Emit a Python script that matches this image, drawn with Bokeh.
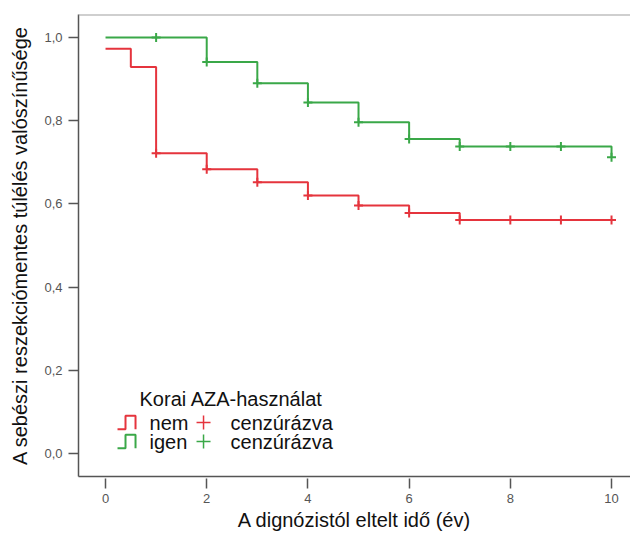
from bokeh.plotting import figure
from bokeh.models import FixedTicker, Range1d, Span
from bokeh.core.properties import value
from bokeh.embed import file_html
from bokeh.resources import INLINE

# Kaplan-Meier data
nem_t = [0, 0.5, 1, 2, 3, 4, 5, 6, 7, 10]
nem_s = [0.973, 0.929, 0.722, 0.683, 0.652, 0.620, 0.596, 0.578, 0.561, 0.561]
nem_cens_t = [1, 2, 3, 4, 5, 6, 7, 8, 9, 10]
nem_cens_s = [0.722, 0.683, 0.652, 0.620, 0.596, 0.578, 0.561, 0.561, 0.561, 0.561]

igen_t = [0, 2, 3, 4, 5, 6, 7, 10]
igen_s = [1.0, 0.941, 0.890, 0.844, 0.796, 0.756, 0.738, 0.712]
igen_cens_t = [1, 2, 3, 4, 5, 6, 7, 8, 9, 10]
igen_cens_s = [1.0, 0.941, 0.890, 0.844, 0.796, 0.756, 0.738, 0.738, 0.738, 0.712]

x_ticks = [0, 2, 4, 6, 8, 10]
y_ticks = [0.0, 0.2, 0.4, 0.6, 0.8, 1.0]
y_tick_labels = ["0,0", "0,2", "0,4", "0,6", "0,8", "1,0"]

legend_title = "Korai AZA-használat"
legend_groups = ["nem", "igen"]
censor_label = "cenzúrázva"

RED = "#e5343d"
GREEN = "#3aa848"
FONT = "Liberation Sans"
BIG = "20px"

p = figure(width=630, height=536, output_backend="svg", toolbar_location=None,
           x_range=Range1d(-0.534, 10.375), y_range=Range1d(-0.0553, 1.0553),
           min_border_left=78, min_border_right=0, min_border_top=14, min_border_bottom=60)
p.grid.visible = False
p.outline_line_color = None
p.background_fill_color = "white"

# top frame line
p.add_layout(Span(location=1.0553, dimension="width", line_color="#a0a0a0", line_width=2))

# axes
p.xaxis.ticker = FixedTicker(ticks=x_ticks)
p.yaxis.ticker = FixedTicker(ticks=y_ticks)
p.yaxis.major_label_overrides = {t: l for t, l in zip(y_ticks, y_tick_labels)}
for ax in (p.xaxis[0], p.yaxis[0]):
    ax.axis_line_color = "#555555"
    ax.axis_line_width = 1.5
    ax.major_tick_line_color = "#555555"
    ax.major_tick_line_width = 1.5
    ax.minor_tick_line_color = None
    ax.major_label_text_font = FONT
    ax.major_label_text_font_size = "13px"
    ax.major_label_text_color = "#555555"
    ax.axis_label_text_font = FONT
    ax.axis_label_text_font_size = BIG
    ax.axis_label_text_font_style = "normal"
    ax.axis_label_text_color = "#111111"
p.yaxis.major_tick_in = 0
p.yaxis.major_tick_out = 10
p.yaxis.major_label_standoff = 6
p.yaxis.axis_label = "A sebészi reszekciómentes túlélés valószínűsége"
p.yaxis.axis_label_standoff = 10
p.xaxis.major_tick_in = -2
p.xaxis.major_tick_out = 12
p.xaxis.major_label_standoff = 5
p.xaxis.axis_label = "A dignózistól eltelt idő (év)"
p.xaxis.axis_label_standoff = 3

# curves
p.step(nem_t, nem_s, mode="after", line_color=RED, line_width=2)
p.step(igen_t, igen_s, mode="after", line_color=GREEN, line_width=2)
p.scatter(nem_cens_t, nem_cens_s, marker="cross", size=9, line_color=RED, line_width=2)
p.scatter(igen_cens_t, igen_cens_s, marker="cross", size=9, line_color=GREEN, line_width=2)

# legend (drawn manually)
p.text(x=[0.672], y=[0.132], text=[legend_title], text_font=value(FONT),
       text_font_size=BIG, text_color="#111111", text_baseline="middle", text_align="left")
rows_y = [0.0745, 0.0288]
colors = [RED, GREEN]
for ry, col, grp in zip(rows_y, colors, legend_groups):
    lo = ry - 0.016
    hi = ry + 0.016
    p.line([0.237, 0.395, 0.395, 0.593, 0.593], [lo, lo, hi, hi, lo], line_color=col, line_width=2)
    p.text(x=[0.87], y=[ry], text=[grp], text_font=value(FONT), text_font_size=BIG,
           text_color="#111111", text_baseline="middle", text_align="left")
    p.scatter([1.937], [ry], marker="cross", size=14, line_color=col, line_width=1.5)
    p.text(x=[2.47], y=[ry], text=[censor_label], text_font=value(FONT), text_font_size=BIG,
           text_color="#111111", text_baseline="middle", text_align="left")

open("out.html", "w").write(file_html(p, INLINE))
